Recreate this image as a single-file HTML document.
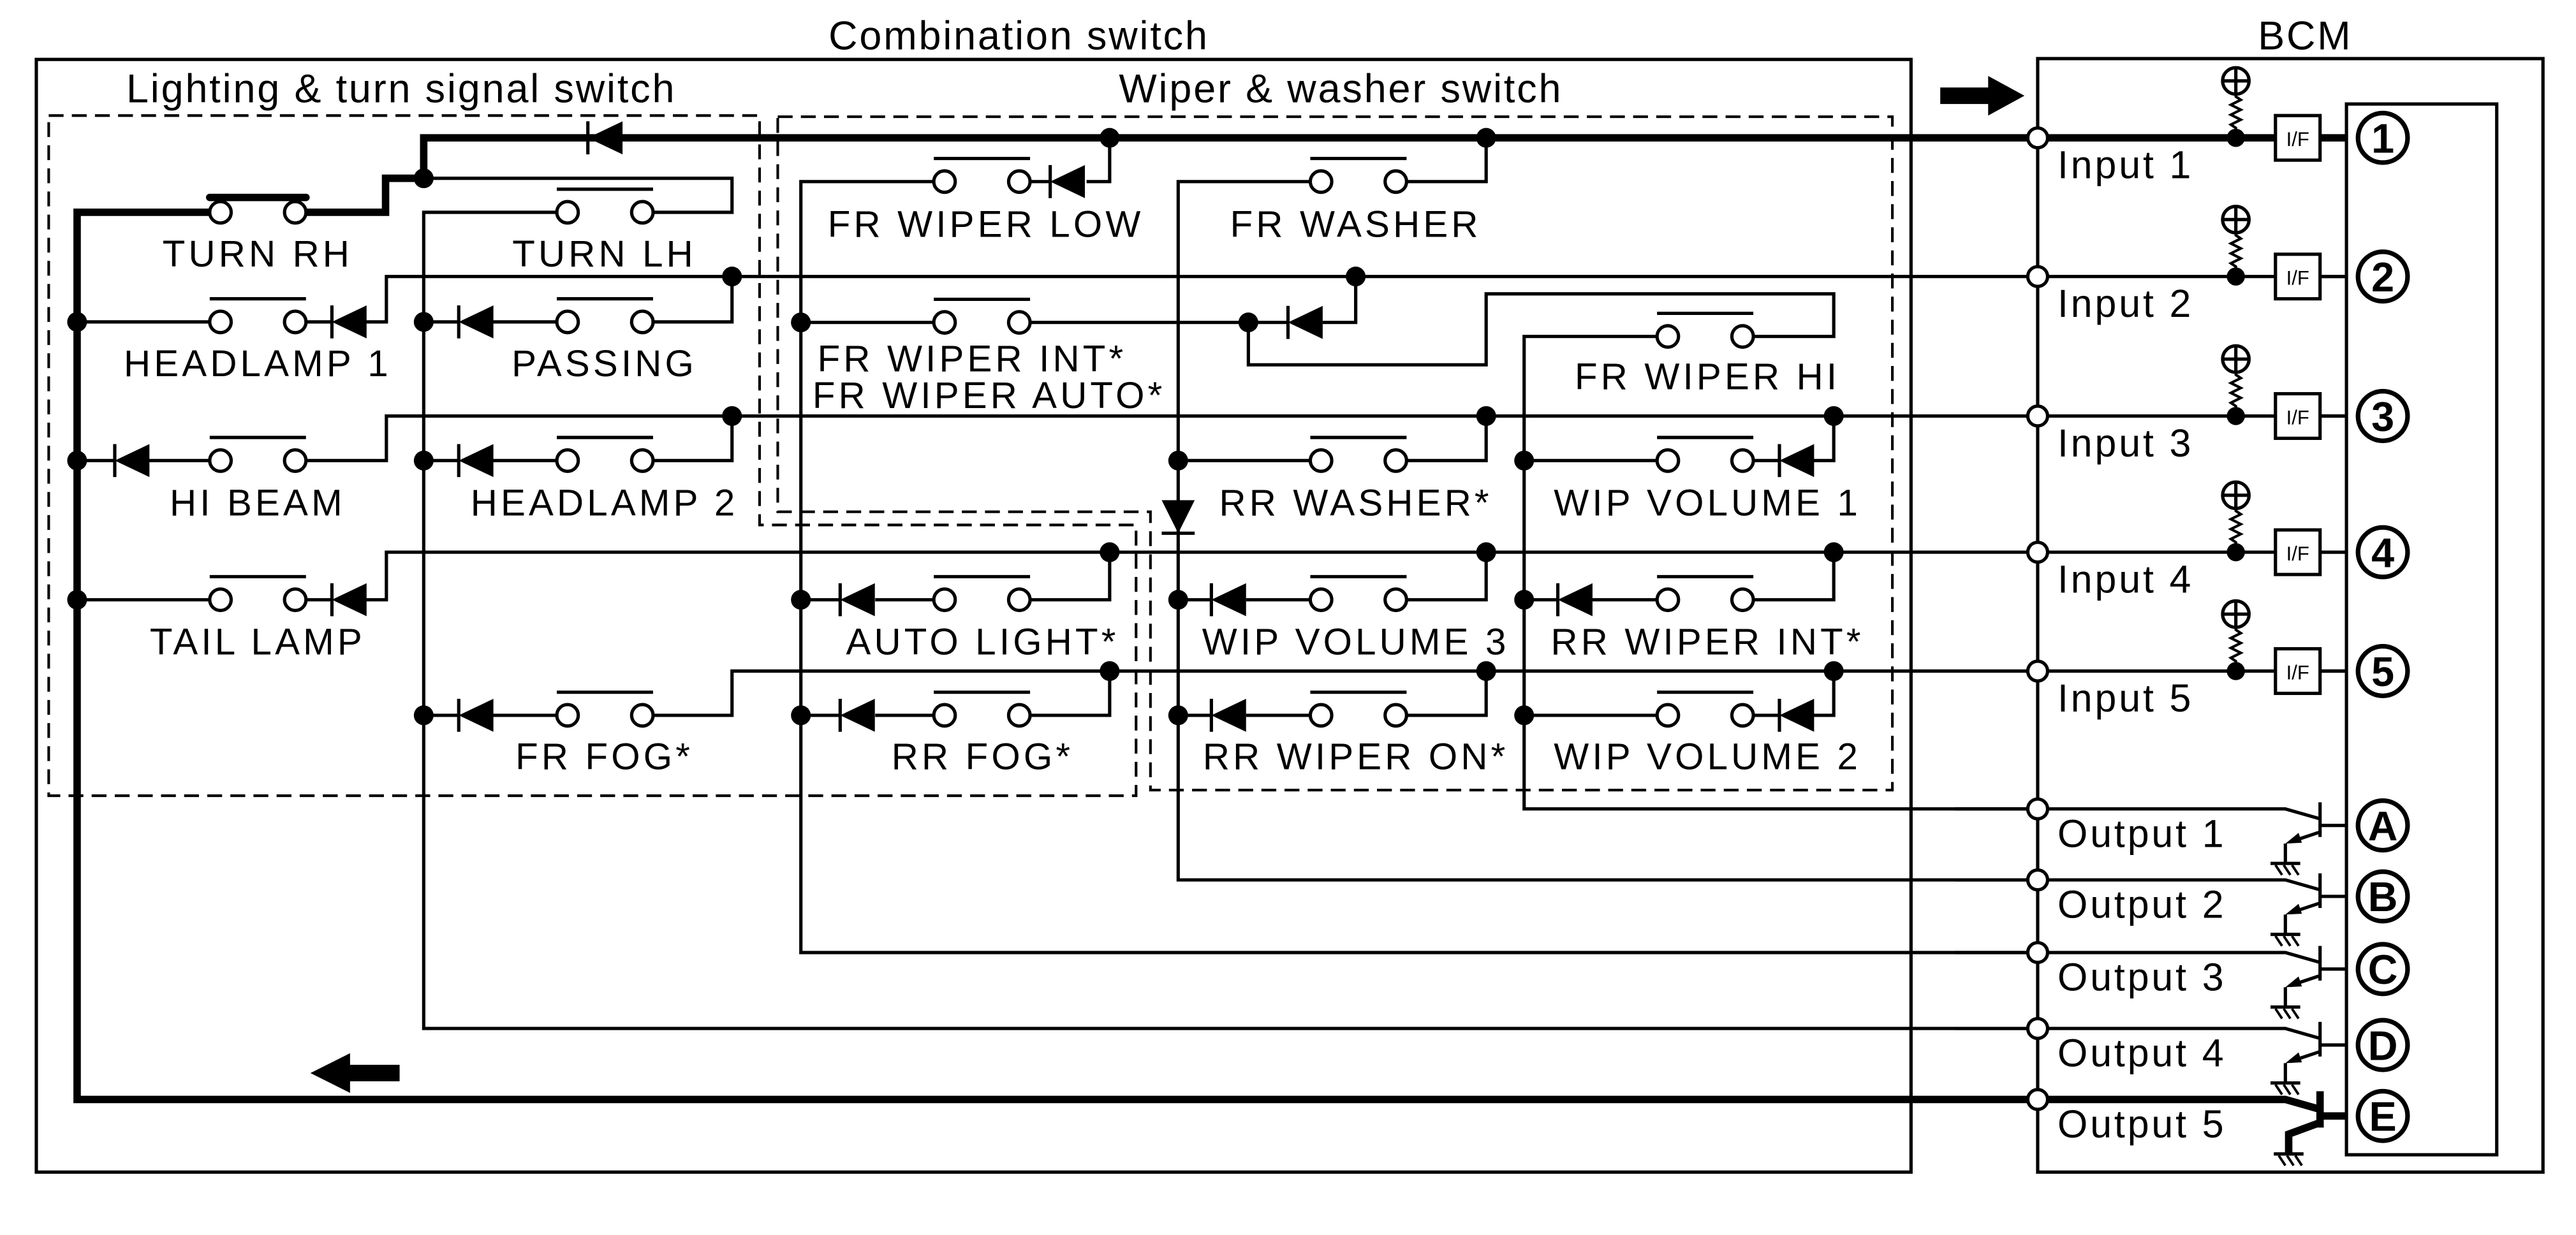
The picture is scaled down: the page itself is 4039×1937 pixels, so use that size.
<!DOCTYPE html>
<html><head><meta charset="utf-8"><style>
html,body{margin:0;padding:0;background:#fff;}
svg{display:block;}
text{font-family:"Liberation Sans",sans-serif;fill:#000;}
.l{font-size:22.5px;letter-spacing:2px;text-anchor:middle;}
.ll{font-size:22.5px;letter-spacing:2px;}
.io{font-size:23.5px;letter-spacing:1.5px;}
.t{font-size:24.3px;letter-spacing:1.1px;text-anchor:middle;}
.c{font-size:25px;font-weight:bold;text-anchor:middle;}
</style></head><body>
<svg width="4039" height="1937" viewBox="0 0 1560 748.1" preserveAspectRatio="none" xmlns="http://www.w3.org/2000/svg">
<defs>
<g id="sw"><line x1="-6.5" y1="-14" x2="51.8" y2="-14" stroke="#000" stroke-width="2"/><circle cx="0" cy="0" r="6.5" fill="#fff" stroke="#000" stroke-width="2"/><circle cx="45.3" cy="0" r="6.5" fill="#fff" stroke="#000" stroke-width="2"/></g>
<g id="swc"><line x1="-6.5" y1="-9" x2="51.8" y2="-9" stroke="#000" stroke-width="4.5" stroke-linecap="round"/><circle cx="0" cy="0" r="6.5" fill="#fff" stroke="#000" stroke-width="2"/><circle cx="45.3" cy="0" r="6.5" fill="#fff" stroke="#000" stroke-width="2"/></g>
<g id="dl"><polygon points="0,0 21,-10 21,10" fill="#000"/><line x1="0" y1="-10" x2="0" y2="10" stroke="#000" stroke-width="2"/></g>
<circle id="n" r="6" fill="#000"/>
<g id="pu"><circle cx="0" cy="-34.5" r="8" fill="#fff" stroke="#000" stroke-width="2"/><line x1="-8" y1="-34.5" x2="8" y2="-34.5" stroke="#000" stroke-width="2"/><line x1="0" y1="-42.5" x2="0" y2="-26.5" stroke="#000" stroke-width="2"/><polyline points="0,-26.5 0,-25 3,-23 -3,-20 3,-17 -3,-14 3,-11 -3,-8 0,-6 0,0" fill="none" stroke="#000" stroke-width="1.6"/><circle r="5.5" fill="#000"/><rect x="24" y="-13.5" width="27" height="27" fill="#fff" stroke="#000" stroke-width="2"/><text x="37.5" y="5" font-size="12" text-anchor="middle">I/F</text><line x1="51" y1="0" x2="67" y2="0" stroke="#000" stroke-width="2"/></g>
<g id="tr"><polyline points="-170,0 30,0 51,6" fill="none" stroke="#000" stroke-width="2"/><line x1="51" y1="-4" x2="51" y2="17" stroke="#000" stroke-width="2"/><line x1="51" y1="10" x2="67" y2="10" stroke="#000" stroke-width="2"/><line x1="51" y1="14" x2="33" y2="20" stroke="#000" stroke-width="2"/><polygon points="30,21 38,14.5 40,20.5" fill="#000"/><polyline points="30,21 30,33" fill="none" stroke="#000" stroke-width="2"/><line x1="21" y1="33" x2="39" y2="33" stroke="#000" stroke-width="2"/><path d="M24,34 l4,6 M29,34 l4,6 M34,34 l4,6" stroke="#000" stroke-width="1.5"/></g>
</defs>

<!-- boxes -->
<rect x="22" y="36" width="1135.3" height="674" fill="none" stroke="#000" stroke-width="2"/>
<rect x="1234" y="35.5" width="306" height="674.5" fill="none" stroke="#000" stroke-width="2"/>
<rect x="1421" y="63" width="91" height="636.5" fill="none" stroke="#000" stroke-width="2"/>
<text class="t" x="617" y="30">Combination switch</text>
<text class="t" x="1396" y="30">BCM</text>
<text class="t" x="243" y="62">Lighting &amp; turn signal switch</text>
<text class="t" x="812" y="62">Wiper &amp; washer switch</text>

<!-- dashed boxes -->
<g fill="none" stroke="#000" stroke-width="1.6" stroke-dasharray="9,5">
<polyline points="29.5,70 460,70 460,318 688,318 688,482 29.5,482 29.5,70"/>
<polyline points="471,70.7 1146,70.7 1146,478.6 696.7,478.6 696.7,310 471,310 471,70.7"/>
</g>

<!-- thick paths -->
<g fill="none" stroke="#000" stroke-width="4.5">
<polyline points="1234,83.5 256.6,83.5 256.6,108 233.5,108 233.5,128.6 185,128.6"/>
<polyline points="127,128.6 46.7,128.6 46.7,666 1234,666"/>
<polyline points="1234,666 1384,666 1405,672"/>
<line x1="1405" y1="661" x2="1405" y2="683"/>
<line x1="1405" y1="676" x2="1421" y2="676"/>
<polyline points="1405,680 1386,687 1386,699"/>
<line x1="1240" y1="83.5" x2="1421" y2="83.5"/>
</g>
<use href="#dl" x="356" y="83.5"/>

<!-- thin wires -->
<g fill="none" stroke="#000" stroke-width="2">
<polyline points="256.6,108 443.3,108 443.3,128.6 395,128.6"/>
<polyline points="337,128.6 256.6,128.6 256.6,623 1234,623"/>
<line x1="46.7" y1="195" x2="127" y2="195"/>
<line x1="185" y1="195" x2="201" y2="195"/>
<polyline points="221.6,195 234,195 234,167.5 1234,167.5"/>
<line x1="256.6" y1="195" x2="277.8" y2="195"/>
<line x1="297.9" y1="195" x2="337" y2="195"/>
<polyline points="395,195 443.3,195 443.3,167.5"/>
<line x1="46.7" y1="279" x2="69.5" y2="279"/>
<line x1="90" y1="279" x2="127" y2="279"/>
<polyline points="185,279 234,279 234,252 1234,252"/>
<line x1="256.6" y1="279" x2="277.8" y2="279"/>
<line x1="297.9" y1="279" x2="337" y2="279"/>
<polyline points="395,279 443.3,279 443.3,252"/>
<line x1="46.7" y1="363.3" x2="127" y2="363.3"/>
<line x1="185" y1="363.3" x2="201" y2="363.3"/>
<polyline points="221.6,363.3 234,363.3 234,334.5 1234,334.5"/>
<line x1="256.6" y1="433.3" x2="277.8" y2="433.3"/>
<line x1="297.9" y1="433.3" x2="337" y2="433.3"/>
<polyline points="395,433.3 443.3,433.3 443.3,406.5 1234,406.5"/>
<polyline points="566,110 485,110 485,577 1234,577"/>
<line x1="485" y1="195.3" x2="566" y2="195.3"/>
<polyline points="623,110 636,110"/>
<polyline points="658,110 672,110 672,83.5"/>
<polyline points="623,195.3 780,195.3"/>
<polyline points="801,195.3 821,195.3 821,167.5"/>
<polyline points="756,195.3 756,221 900,221 900,178 1110.5,178 1110.5,203.8 1062,203.8"/>
<polyline points="1004,203.8 923,203.8 923,490 1234,490"/>
<line x1="485" y1="363.3" x2="508.8" y2="363.3"/>
<line x1="530" y1="363.3" x2="566" y2="363.3"/>
<polyline points="623,363.3 672,363.3 672,334.5"/>
<line x1="485" y1="433.3" x2="508.8" y2="433.3"/>
<line x1="530" y1="433.3" x2="566" y2="433.3"/>
<polyline points="623,433.3 672,433.3 672,406.5"/>
<polyline points="794,110 713.5,110 713.5,533 1234,533"/>
<polyline points="852,110 900,110 900,83.5"/>
<line x1="713.5" y1="279" x2="794" y2="279"/>
<polyline points="852,279 900,279 900,252"/>
<line x1="713.5" y1="363.3" x2="733.6" y2="363.3"/>
<line x1="754.6" y1="363.3" x2="794" y2="363.3"/>
<polyline points="852,363.3 900,363.3 900,334.5"/>
<line x1="713.5" y1="433.3" x2="733.6" y2="433.3"/>
<line x1="754.6" y1="433.3" x2="794" y2="433.3"/>
<polyline points="852,433.3 900,433.3 900,406.5"/>
<line x1="923" y1="279" x2="1004" y2="279"/>
<line x1="1062" y1="279" x2="1077.6" y2="279"/>
<polyline points="1098,279 1110.5,279 1110.5,252"/>
<line x1="923" y1="363.3" x2="943.4" y2="363.3"/>
<line x1="964.3" y1="363.3" x2="1004" y2="363.3"/>
<polyline points="1062,363.3 1110.5,363.3 1110.5,334.5"/>
<line x1="923" y1="433.3" x2="1004" y2="433.3"/>
<line x1="1062" y1="433.3" x2="1077.6" y2="433.3"/>
<polyline points="1098,433.3 1110.5,433.3 1110.5,406.5"/>
<line x1="1234" y1="167.5" x2="1421" y2="167.5"/>
<line x1="1234" y1="252" x2="1421" y2="252"/>
<line x1="1234" y1="334.5" x2="1421" y2="334.5"/>
<line x1="1234" y1="406.5" x2="1421" y2="406.5"/>
</g>

<polygon points="703.5,303 723.5,303 713.5,323" fill="#000"/>
<line x1="703.5" y1="323" x2="723.5" y2="323" stroke="#000" stroke-width="2"/>

<use href="#swc" x="133.5" y="128.6"/>
<use href="#sw" x="343.7" y="128.6"/>
<use href="#sw" x="133.5" y="195"/>
<use href="#sw" x="343.7" y="195"/>
<use href="#sw" x="133.5" y="279"/>
<use href="#sw" x="343.7" y="279"/>
<use href="#sw" x="133.5" y="363.3"/>
<use href="#sw" x="343.7" y="433.3"/>
<use href="#sw" x="572" y="110"/>
<use href="#sw" x="572" y="195.3"/>
<use href="#sw" x="572" y="363.3"/>
<use href="#sw" x="572" y="433.3"/>
<use href="#sw" x="800" y="110"/>
<use href="#sw" x="800" y="279"/>
<use href="#sw" x="800" y="363.3"/>
<use href="#sw" x="800" y="433.3"/>
<use href="#sw" x="1010" y="203.8"/>
<use href="#sw" x="1010" y="279"/>
<use href="#sw" x="1010" y="363.3"/>
<use href="#sw" x="1010" y="433.3"/>

<use href="#dl" x="201" y="195"/>
<use href="#dl" x="277.8" y="195"/>
<use href="#dl" x="69.5" y="279"/>
<use href="#dl" x="277.8" y="279"/>
<use href="#dl" x="201" y="363.3"/>
<use href="#dl" x="277.8" y="433.3"/>
<use href="#dl" x="636" y="110"/>
<use href="#dl" x="780" y="195.3"/>
<use href="#dl" x="508.8" y="363.3"/>
<use href="#dl" x="508.8" y="433.3"/>
<use href="#dl" x="733.6" y="363.3"/>
<use href="#dl" x="733.6" y="433.3"/>
<use href="#dl" x="1077.6" y="279"/>
<use href="#dl" x="943.4" y="363.3"/>
<use href="#dl" x="1077.6" y="433.3"/>

<use href="#n" x="256.6" y="108"/>
<use href="#n" x="443.3" y="167.5"/>
<use href="#n" x="443.3" y="252"/>
<use href="#n" x="46.7" y="195"/>
<use href="#n" x="46.7" y="279"/>
<use href="#n" x="46.7" y="363.3"/>
<use href="#n" x="256.6" y="195"/>
<use href="#n" x="256.6" y="279"/>
<use href="#n" x="256.6" y="433.3"/>
<use href="#n" x="672" y="83.5"/>
<use href="#n" x="900" y="83.5"/>
<use href="#n" x="485" y="195.3"/>
<use href="#n" x="756" y="195.3"/>
<use href="#n" x="821" y="167.5"/>
<use href="#n" x="900" y="252"/>
<use href="#n" x="1110.5" y="252"/>
<use href="#n" x="713.5" y="279"/>
<use href="#n" x="923" y="279"/>
<use href="#n" x="672" y="334.5"/>
<use href="#n" x="900" y="334.5"/>
<use href="#n" x="1110.5" y="334.5"/>
<use href="#n" x="485" y="363.3"/>
<use href="#n" x="713.5" y="363.3"/>
<use href="#n" x="923" y="363.3"/>
<use href="#n" x="672" y="406.5"/>
<use href="#n" x="900" y="406.5"/>
<use href="#n" x="1110.5" y="406.5"/>
<use href="#n" x="485" y="433.3"/>
<use href="#n" x="713.5" y="433.3"/>
<use href="#n" x="923" y="433.3"/>

<text class="l" x="156" y="161.4">TURN RH</text>
<text class="l" x="366" y="161.4">TURN LH</text>
<text class="l" x="156" y="227.8">HEADLAMP 1</text>
<text class="l" x="366" y="227.8">PASSING</text>
<text class="l" x="156" y="312.3">HI BEAM</text>
<text class="l" x="366" y="312.3">HEADLAMP 2</text>
<text class="l" x="156" y="396.5">TAIL LAMP</text>
<text class="l" x="366" y="466">FR FOG*</text>
<text class="l" x="597" y="143.5">FR WIPER LOW</text>
<text class="l" x="821" y="143.5">FR WASHER</text>
<text class="ll" x="495" y="225">FR WIPER INT*</text>
<text class="ll" x="492" y="247.2">FR WIPER AUTO*</text>
<text class="l" x="1034" y="235.8">FR WIPER HI</text>
<text class="l" x="821" y="312.3">RR WASHER*</text>
<text class="l" x="1034" y="312.3">WIP VOLUME 1</text>
<text class="l" x="595" y="396.5">AUTO LIGHT*</text>
<text class="l" x="821" y="396.5">WIP VOLUME 3</text>
<text class="l" x="1034" y="396.5">RR WIPER INT*</text>
<text class="l" x="595" y="466">RR FOG*</text>
<text class="l" x="821" y="466">RR WIPER ON*</text>
<text class="l" x="1034" y="466">WIP VOLUME 2</text>

<use href="#pu" x="1354" y="83.5"/>
<use href="#pu" x="1354" y="167.5"/>
<use href="#pu" x="1354" y="252"/>
<use href="#pu" x="1354" y="334.5"/>
<use href="#pu" x="1354" y="406.5"/>
<use href="#tr" x="1354" y="490"/>
<use href="#tr" x="1354" y="533"/>
<use href="#tr" x="1354" y="577"/>
<use href="#tr" x="1354" y="623"/>
<line x1="1377" y1="699" x2="1395" y2="699" stroke="#000" stroke-width="2"/>
<path d="M1380,700 l4,6 M1385,700 l4,6 M1390,700 l4,6" stroke="#000" stroke-width="1.5"/>

<g fill="#fff" stroke="#000" stroke-width="2">
<circle cx="1234" cy="83.5" r="6"/><circle cx="1234" cy="167.5" r="6"/><circle cx="1234" cy="252" r="6"/><circle cx="1234" cy="334.5" r="6"/><circle cx="1234" cy="406.5" r="6"/>
<circle cx="1234" cy="490" r="6"/><circle cx="1234" cy="533" r="6"/><circle cx="1234" cy="577" r="6"/><circle cx="1234" cy="623" r="6"/><circle cx="1234" cy="666" r="6"/>
</g>
<g fill="#fff" stroke="#000" stroke-width="2.8">
<circle cx="1443" cy="83.5" r="15"/><circle cx="1443" cy="167.5" r="15"/><circle cx="1443" cy="252" r="15"/><circle cx="1443" cy="334.5" r="15"/><circle cx="1443" cy="406.5" r="15"/>
<circle cx="1443" cy="500" r="15"/><circle cx="1443" cy="543" r="15"/><circle cx="1443" cy="587" r="15"/><circle cx="1443" cy="633" r="15"/><circle cx="1443" cy="676" r="15"/>
</g>
<text class="c" x="1443" y="92.5">1</text><text class="c" x="1443" y="176.5">2</text><text class="c" x="1443" y="261">3</text><text class="c" x="1443" y="343.5">4</text><text class="c" x="1443" y="415.5">5</text>
<text class="c" x="1443" y="509">A</text><text class="c" x="1443" y="552">B</text><text class="c" x="1443" y="596">C</text><text class="c" x="1443" y="642">D</text><text class="c" x="1443" y="685">E</text>

<text class="io" x="1246" y="108">Input 1</text>
<text class="io" x="1246" y="192">Input 2</text>
<text class="io" x="1246" y="276.5">Input 3</text>
<text class="io" x="1246" y="359">Input 4</text>
<text class="io" x="1246" y="431">Input 5</text>
<text class="io" x="1246" y="513">Output 1</text>
<text class="io" x="1246" y="556">Output 2</text>
<text class="io" x="1246" y="600">Output 3</text>
<text class="io" x="1246" y="646">Output 4</text>
<text class="io" x="1246" y="689">Output 5</text>

<rect x="1175" y="53" width="32" height="10" fill="#000"/>
<polygon points="1204,46 1226,58 1204,70" fill="#000"/>
<rect x="210" y="645" width="32" height="10" fill="#000"/>
<polygon points="212,638 188,650 212,662" fill="#000"/>
</svg>
</body></html>
